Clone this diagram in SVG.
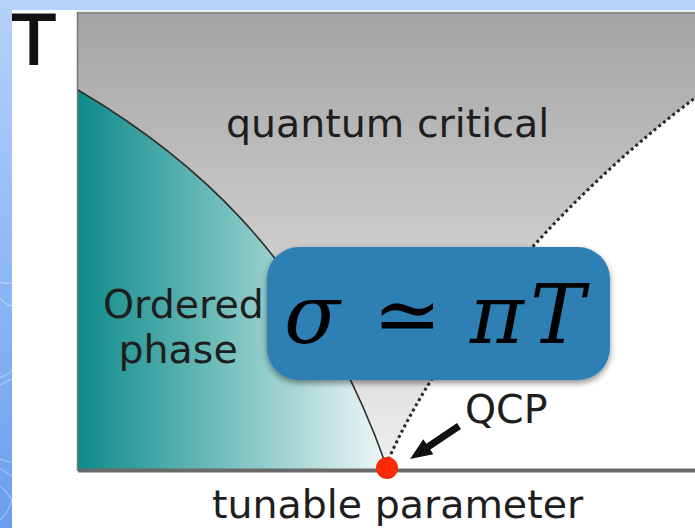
<svg xmlns="http://www.w3.org/2000/svg" width="695" height="528" viewBox="0 0 695 528">
  <defs>
    <linearGradient id="bandV" x1="0" y1="0" x2="0" y2="1">
      <stop offset="0" stop-color="#b6d2fb"/>
      <stop offset="1" stop-color="#6a9df0"/>
    </linearGradient>
    <linearGradient id="grayV" gradientUnits="userSpaceOnUse" x1="0" y1="13" x2="0" y2="470">
      <stop offset="0" stop-color="#a3a3a3"/>
      <stop offset="0.5" stop-color="#cbcbcb"/>
      <stop offset="1" stop-color="#efefef"/>
    </linearGradient>
    <linearGradient id="tealH" gradientUnits="userSpaceOnUse" x1="78" y1="0" x2="390" y2="0">
      <stop offset="0" stop-color="#0f8a8a"/>
      <stop offset="0.45" stop-color="#6fbdbb"/>
      <stop offset="1" stop-color="#f2f8f8"/>
    </linearGradient>
    <filter id="shadow" x="-10%" y="-10%" width="120%" height="130%">
      <feDropShadow dx="0" dy="3" stdDeviation="3" flood-color="#000" flood-opacity="0.45"/>
    </filter>
    <style>
      .lbl { font-family: "DejaVu Sans", "Liberation Sans", sans-serif; font-size: 39.5px; fill: #1e1e1e; }
      .math { font-family: "DejaVu Serif", "Liberation Serif", serif; font-style: italic; font-size: 82px; fill: #000; }
      .curve { fill: none; stroke: #2e2e2e; stroke-width: 1.6; }
      .dots { fill: none; stroke: #2a2a2a; stroke-width: 3; stroke-dasharray: 3 3; }
    </style>
  </defs>

  <!-- background -->
  <rect x="0" y="0" width="695" height="528" fill="#ffffff"/>

  <!-- plot regions -->
  <g id="quantum-critical-region">
    <path d="M78,13 L695,13 L695,98 C575,188 446,327 386,465 C310,250 180,150 78,90 Z" fill="url(#grayV)"/>
  </g>
  <g id="ordered-phase-region">
    <path d="M78,90 C180,150 310,250 386,465 L386,470 L78,470 Z" fill="url(#tealH)"/>
  </g>

  <!-- axes -->
  <g id="axes">
    <line x1="77.5" y1="12" x2="77.5" y2="471" stroke="#777777" stroke-width="1.5"/>
    <line x1="78" y1="11" x2="695" y2="11" stroke="#dcdcdc" stroke-width="1"/>
    <line x1="78" y1="13" x2="695" y2="13" stroke="#8a8a8a" stroke-width="2"/>
    <line x1="78" y1="470.5" x2="695" y2="470.5" stroke="#6a6a6a" stroke-width="4"/>
  </g>

  <!-- connectors -->
  <g id="connectors">
    <path class="curve" d="M78,90 C180,150 310,250 386,465"/>
    <path class="dots" d="M386,465 C446,327 575,188 695,98"/>
    <polygon points="457,423.1 426.3,443.8 423.3,439.2 410,459 433.3,454.2 430.3,449.6 461,428.9" fill="#111111"/>
  </g>

  <g id="qcp-point">
    <circle cx="387" cy="468" r="11" fill="#fa2a05"/>
  </g>

  <!-- labels -->
  <g id="axis-T"><text x="13" y="64" font-family="DejaVu Sans, sans-serif" font-size="68" fill="#111" stroke="#111" stroke-width="2">T</text></g>
  <g id="label-quantum-critical"><text class="lbl" x="226" y="137">quantum critical</text></g>
  <g id="label-ordered-phase">
    <text class="lbl" x="103" y="318">Ordered</text>
    <text class="lbl" x="118.5" y="363">phase</text>
  </g>
  <g id="label-qcp"><text class="lbl" x="465" y="423">QCP</text></g>
  <g id="label-tunable-parameter"><text class="lbl" x="212" y="518" font-size="41">tunable parameter</text></g>

  <!-- formula box -->
  <g id="formula-box">
    <rect x="267" y="247" width="343" height="133" rx="32" ry="32" fill="#2f7fb3" filter="url(#shadow)"/>
    <text class="math" y="343">
      <tspan x="284">σ</tspan>
      <tspan x="373" font-style="normal" font-size="82">≃</tspan>
      <tspan x="470">π</tspan>
      <tspan x="530">T</tspan>
    </text>
  </g>

  <!-- slide background band -->
  <g id="slide-band">
    <rect x="0" y="0" width="695" height="10" fill="#b6d2fb"/>
    <rect x="0" y="0" width="12" height="528" fill="url(#bandV)"/>
    <g fill="none" stroke="#ffffff" stroke-opacity="0.6" stroke-width="0.8">
      <path d="M0,282 C4,283 8,284 12,283"/>
      <path d="M0,298 C4,302 8,306 12,306"/>
      <path d="M0,378 C4,376 8,374 12,371"/>
      <path d="M0,385 C4,383 8,381 12,379"/>
      <path d="M0,459 C4,461 8,462 12,462"/>
      <path d="M0,468 C4,471 8,474 12,476"/>
      <path d="M0,486 C5,490 10,496 12,500"/>
      <path d="M0,520 C5,515 10,508 12,500"/>
    </g>
  </g>
</svg>
